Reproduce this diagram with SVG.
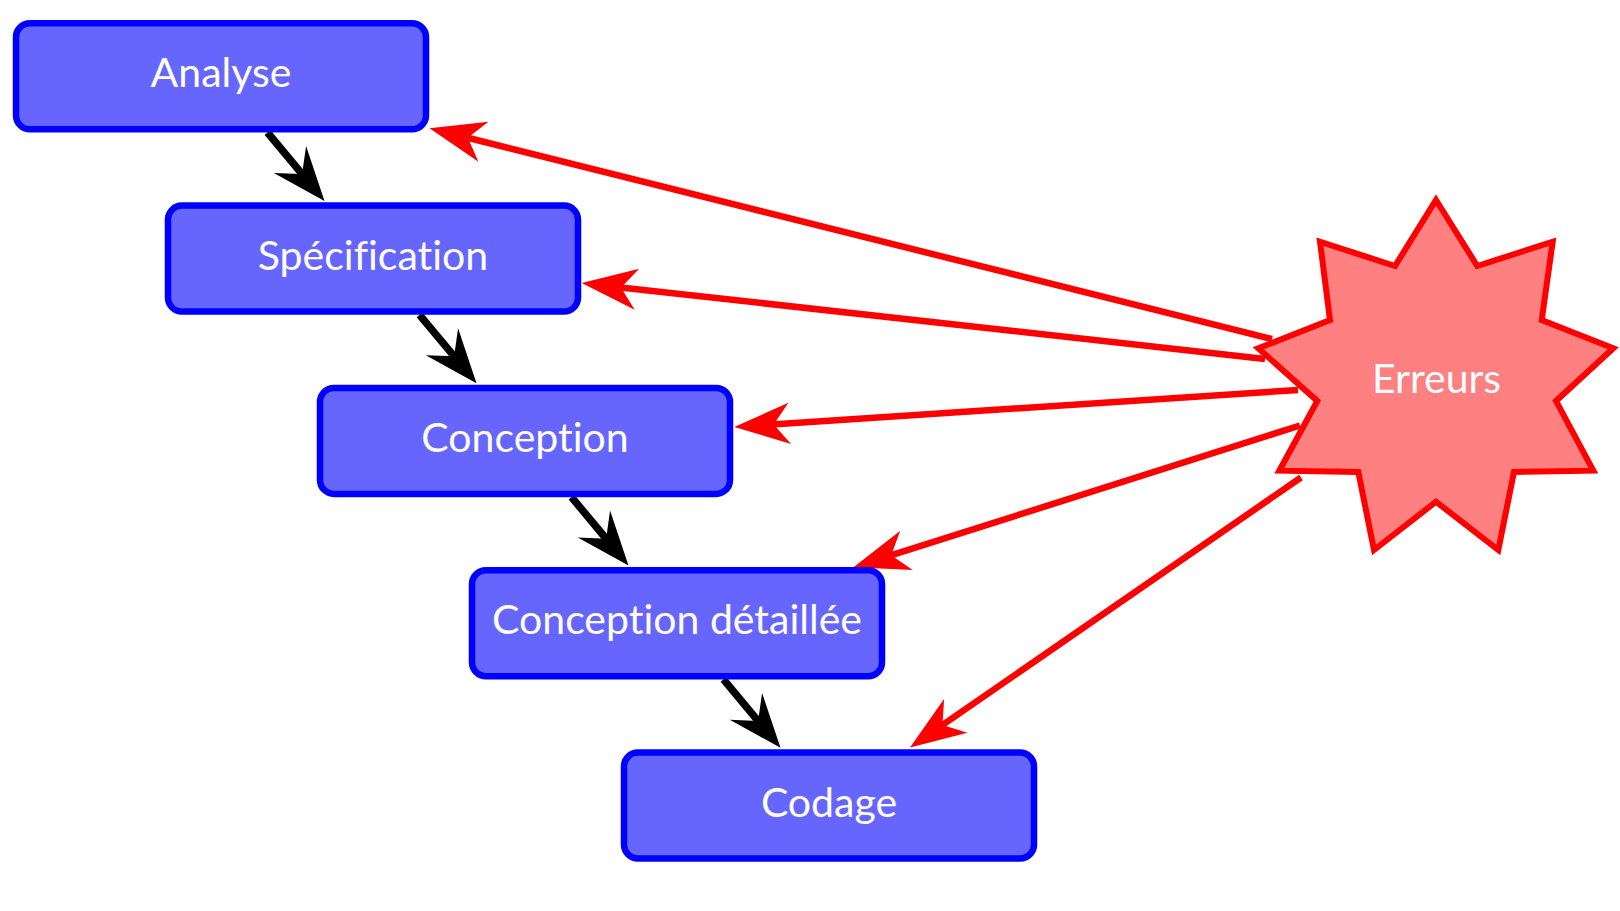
<svg xmlns="http://www.w3.org/2000/svg" width="1620" height="911" viewBox="0 0 1620 911">
<style>
.box{fill:#6666ff;stroke:#0000ff;stroke-width:6.5}
.lbl{font-family:Lato,"Source Sans Pro","Noto Sans",sans-serif;font-size:41px;fill:#ffffff;text-anchor:middle;font-variant-ligatures:none;font-feature-settings:"liga" 0}
.blk{stroke:#000000;stroke-width:7.5;fill:none;marker-end:url(#ab)}
.red{stroke:#ff0000;stroke-width:6.5;fill:none;marker-end:url(#ar)}
.star{fill:#ff8080;stroke:#ff0000;stroke-width:6;stroke-linejoin:miter}
</style>
<defs>
<marker id="ab" markerUnits="userSpaceOnUse" orient="auto" refX="0" refY="0" markerWidth="80" markerHeight="60" overflow="visible">
<path d="M30,0 L-24,-21 L-5,0 L-24,21 Z" fill="#000000"/>
</marker>
<marker id="ar" markerUnits="userSpaceOnUse" orient="auto" refX="0" refY="0" markerWidth="80" markerHeight="60" overflow="visible">
<path d="M30,0 L-25.6,-20.6 L-9.5,0 L-25.6,20.6 Z" fill="#ff0000"/>
</marker>
</defs>
<rect width="1620" height="911" fill="#ffffff"/>
<g id="connectors">
<path class="blk" d="M267.5,132.5 L305.3,177.9"/>
<path class="blk" d="M419.5,314.8 L457.3,360.2"/>
<path class="blk" d="M571.5,497.1 L609.3,542.5"/>
<path class="blk" d="M723.5,679.4 L761.3,724.8"/>
<path class="red" d="M1272,339 L458.6,135.5"/>
<path class="red" d="M1265,359 L611.5,286.4"/>
<path class="red" d="M1298,390 L764.2,425"/>
<path class="red" d="M1300,425.5 L882.1,558.2"/>
<path class="red" d="M1301,477.5 L934.7,730.4"/>
</g>
<g id="analyse">
<rect class="box" x="16" y="23.3" width="410" height="106" rx="14"/>
<text class="lbl" x="221" y="87.3">Analyse</text>
</g>
<g id="specification">
<rect class="box" x="168" y="205.6" width="410" height="106" rx="14"/>
<text class="lbl" x="373" y="269.6">Spécification</text>
</g>
<g id="conception">
<rect class="box" x="320" y="387.9" width="410" height="106" rx="14"/>
<text class="lbl" x="525" y="451.9">Conception</text>
</g>
<g id="conception-detaillee">
<rect class="box" x="472" y="570.2" width="410" height="106" rx="14"/>
<text class="lbl" x="677" y="634.2">Conception détaillée</text>
</g>
<g id="codage">
<rect class="box" x="624" y="752.5" width="410" height="106" rx="14"/>
<text class="lbl" x="829" y="816.5">Codage</text>
</g>
<g id="erreurs">
<polygon class="star" points="1436,200 1477.3,266 1552.7,241.7 1541.7,320 1613.3,348.3 1556,401 1593.3,470.7 1514,472 1498.3,550 1436,501.7 1374,550 1358.3,472 1279.3,470.7 1317.3,401 1258.3,348.3 1330,320 1320,241.7 1395,266"/>
<text class="lbl" x="1436.5" y="393.3">Erreurs</text>
</g>
</svg>
